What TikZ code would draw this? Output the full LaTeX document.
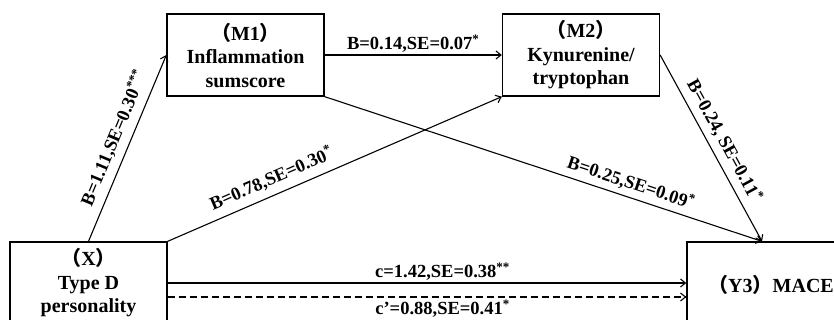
\documentclass[tikz,border=0pt]{standalone}
\usepackage{fontspec}
\setmainfont{Liberation Serif}
\newfontfamily\cjk{Noto Sans CJK SC}
\usetikzlibrary{arrows.meta}
\newcommand{\lp}{{\cjk （}}
\newcommand{\rp}{{\cjk ）}}
\newcommand{\st}[1]{\textsuperscript{#1}}
\begin{document}
\begin{tikzpicture}[x=1pt,y=-1pt,
  box/.style={draw, line width=1.3pt, minimum width=157pt, minimum height=82pt, inner sep=0pt, align=center, font=\fontsize{20}{23.5}\selectfont\bfseries},
  lab/.style={font=\fontsize{18.5}{20}\selectfont\bfseries, inner sep=1pt},
  arr/.style={line width=1.1pt, -{Straight Barb[length=5pt,width=8pt]}}]
\useasboundingbox (0,0) rectangle (834,320);
\clip (0,0) rectangle (834,320);
\node[box] (m1) at (245.5,55) {\lp M1\rp\\Inflammation\\sumscore};
\node[box] (m2) at (581,55) {\lp M2\rp\\Kynurenine/\\tryptophan};
\node[box] (x) at (88.5,283) {\lp X\rp\\Type D\\personality};
\node[box, minimum width=168pt, minimum height=86pt] (y) at (771,285) {\lp Y3\rp MACE};
\coordinate (yin) at ([xshift=-9pt]y.north);
\coordinate (xc) at ([yshift=-14pt]x.east);
\draw[arr] (x.north) -- node[lab, pos=0.52, sloped, above=6pt] {B=1.11,SE=0.30\st{***}} (m1.west);
\draw[arr] (x.north east) -- node[lab, pos=0.33, sloped, above=6pt] {B=0.78,SE=0.30\st{*}} (m2.south west);
\draw[arr] (m1.east) -- node[lab, midway, above=1pt] {B=0.14,SE=0.07\st{*}} (m2.west);
\draw[arr] (m1.south east) -- node[lab, pos=0.69, sloped, above=4pt] {B=0.25,SE=0.09\st{*}} (yin);
\draw[arr] (m2.east) -- node[lab, pos=0.5, sloped, above=5pt] {B=0.24, SE=0.11\st{*}} (yin);
\draw[arr] (x.east) -- node[lab, pos=0.53, above=1pt] {c=1.42,SE=0.38\st{**}} (x.east -| y.west);
\draw[arr, dash pattern=on 7pt off 4pt] (xc) -- node[lab, pos=0.53, below=1pt] {c’=0.88,SE=0.41\st{*}} (xc -| y.west);
\end{tikzpicture}
\end{document}
